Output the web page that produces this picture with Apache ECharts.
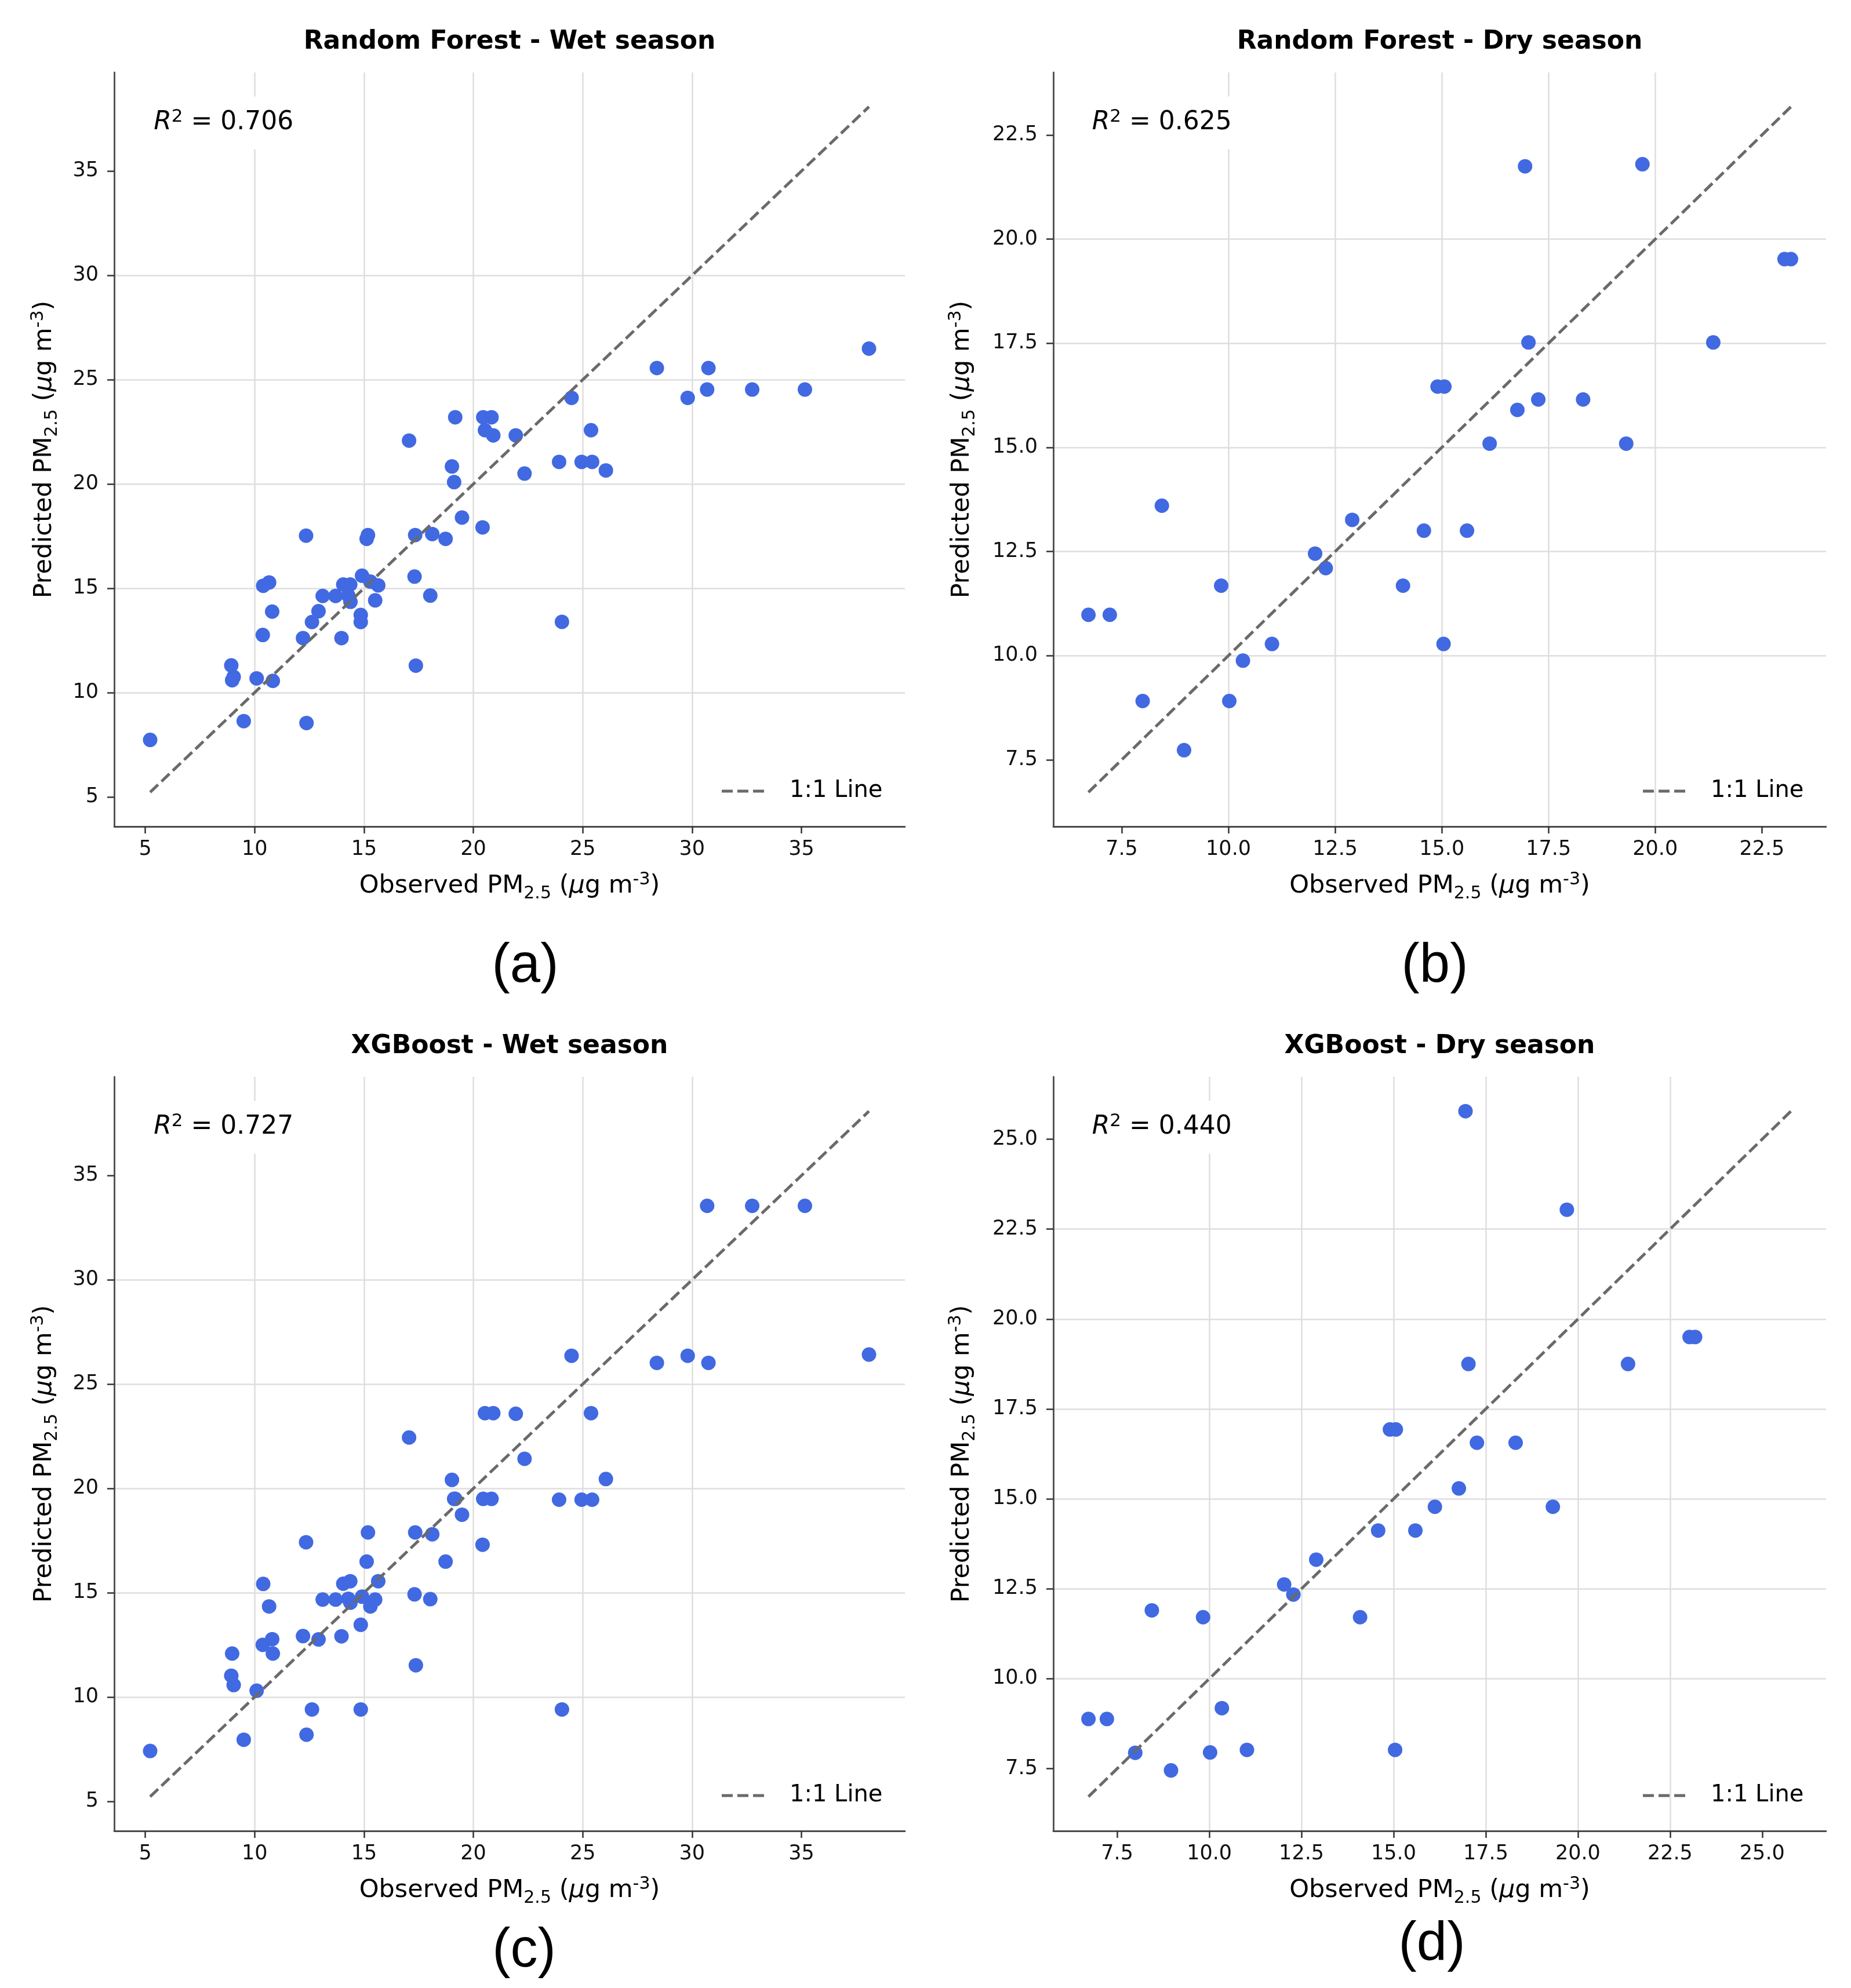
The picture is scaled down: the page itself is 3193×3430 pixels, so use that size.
<!DOCTYPE html>
<html>
<head>
<meta charset="utf-8">
<title>Observed vs predicted PM2.5</title>
<script src="https://cdn.jsdelivr.net/npm/echarts@6/dist/echarts.min.js"></script>
<style>
  html, body { margin: 0; padding: 0; background: #fff; }
  #chart { width: 3193px; height: 3430px; }
</style>
</head>
<body>
<div id="chart"></div>
<script>
// wet season, observed values are the same for both models
var wetObs = [5.22, 8.93, 8.97, 9.04, 9.5, 10.09, 10.37, 10.39, 10.66, 10.8, 10.83, 12.21, 12.35, 12.37, 12.62, 12.92,
  13.11, 13.7, 13.97, 14.05, 14.28, 14.37, 14.38, 14.85, 14.85, 14.91, 15.12, 15.18, 15.29, 15.51, 15.65,
  17.06, 17.31, 17.34, 17.37, 18.03, 18.12, 18.73, 19.02, 19.12, 19.17, 19.48, 20.42, 20.45, 20.53, 20.83, 20.91,
  21.94, 22.34, 23.92, 24.05, 24.49, 24.95, 25.38, 25.43, 26.06, 28.39, 29.8, 30.69, 30.75, 32.75, 35.16, 38.09];
var rfWetPred = [7.73, 11.3, 10.59, 10.75, 8.63, 10.68, 12.76, 15.12, 15.28, 13.88, 10.56, 12.61, 17.52, 8.54, 13.38, 13.9,
  14.63, 14.63, 12.61, 15.18, 14.65, 15.18, 14.35, 13.72, 13.38, 15.6, 17.37, 17.55, 15.32, 14.42, 15.14,
  22.08, 15.56, 17.55, 11.29, 14.65, 17.6, 17.37, 20.84, 20.09, 23.2, 18.39, 17.92, 23.2, 22.58, 23.2, 22.33,
  22.33, 20.5, 21.06, 13.39, 24.13, 21.06, 22.58, 21.06, 20.65, 25.56, 24.13, 24.53, 25.56, 24.53, 24.53, 26.49];
var xgbWetPred = [7.41, 11.02, 12.08, 10.57, 7.95, 10.3, 12.5, 15.42, 14.34, 12.77, 12.08, 12.92, 17.42, 8.19, 9.4, 12.76,
  14.67, 14.67, 12.91, 15.43, 14.71, 15.55, 14.52, 13.46, 9.4, 14.81, 16.49, 17.89, 14.34, 14.67, 15.55,
  22.44, 14.92, 17.89, 11.52, 14.69, 17.8, 16.49, 20.41, 19.5, 19.5, 18.74, 17.3, 19.5, 23.61, 19.5, 23.61,
  23.58, 21.42, 19.46, 9.4, 26.36, 19.46, 23.61, 19.46, 20.45, 26.02, 26.36, 33.55, 26.02, 33.55, 33.55, 26.42];

// dry season
var dryObs = [6.72, 7.22, 7.99, 8.44, 8.96, 9.83, 10.02, 10.34, 11.02, 12.03, 12.28, 12.9, 14.09, 14.58, 14.9,
  15.06, 15.04, 15.59, 16.12, 16.77, 16.95, 17.03, 17.26, 18.31, 19.32, 19.7, 21.36, 23.03, 23.18];
var rfDryPred = [10.98, 10.98, 8.91, 13.6, 7.73, 11.68, 8.91, 9.88, 10.28, 12.45, 12.1, 13.26, 11.68, 13.0, 16.46,
  16.46, 10.28, 13.0, 15.09, 15.9, 21.75, 17.52, 16.15, 16.15, 15.09, 21.8, 17.52, 19.52, 19.52];
var xgbDryPred = [8.88, 8.88, 7.94, 11.9, 7.45, 11.71, 7.95, 9.18, 8.02, 12.62, 12.34, 13.31, 11.71, 14.12, 16.93,
  16.93, 8.02, 14.12, 14.78, 15.29, 25.78, 18.75, 16.56, 16.56, 14.78, 23.04, 18.75, 19.5, 19.5];

var wetTicks = [5, 10, 15, 20, 25, 30, 35];
var rfDryTicks = [7.5, 10, 12.5, 15, 17.5, 20, 22.5];
var xgbDryTicks = [7.5, 10, 12.5, 15, 17.5, 20, 22.5, 25];

var titles = ['Random Forest - Wet season', 'Random Forest - Dry season', 'XGBoost - Wet season', 'XGBoost - Dry season'];
var r2Values = ['0.706', '0.625', '0.727', '0.440'];
var letters = ['(a)', '(b)', '(c)', '(d)'];

var F = 'DejaVu Sans';
var BLUE = '#4169e1';
var LINE = '#6a6a6a';

// panel layout (pixels)
var panels = [
  { obs: wetObs, pred: rfWetPred, ticks: wetTicks, dec: 0, left: 197, top: 125, w: 1364, h: 1301, gapY: 93, lx: 906, ly: 1668 },
  { obs: dryObs, pred: rfDryPred, ticks: rfDryTicks, dec: 1, left: 1817, top: 125, w: 1333, h: 1301, gapY: 130, lx: 2475, ly: 1668 },
  { obs: wetObs, pred: xgbWetPred, ticks: wetTicks, dec: 0, left: 197, top: 1858, w: 1364, h: 1301, gapY: 93, lx: 904, ly: 3367 },
  { obs: dryObs, pred: xgbDryPred, ticks: xgbDryTicks, dec: 1, left: 1817, top: 1858, w: 1333, h: 1301, gapY: 130, lx: 2470, ly: 3356 }
];

var richAxis = {
  sub: { fontFamily: F, fontSize: 30, color: '#000', padding: [26, 0, 0, 0] },
  sup: { fontFamily: F, fontSize: 30, color: '#000', padding: [0, 0, 22, 0] },
  mu: { fontFamily: F, fontSize: 43, color: '#000', fontStyle: 'italic' }
};
var nameStyle = { fontFamily: F, fontSize: 43, color: '#000', lineHeight: 54, rich: richAxis };

var grids = [], xAxes = [], yAxes = [], series = [], graphics = [];

panels.forEach(function (p, k) {
  var all = p.obs.concat(p.pred);
  var lo = Math.min.apply(null, all);
  var hi = Math.max.apply(null, all);
  var pad = (hi - lo) * 0.05;
  var fmt = function (v) { return Number(v).toFixed(p.dec); };

  grids.push({ left: p.left, top: p.top, width: p.w, height: p.h, containLabel: false, outerBoundsMode: 'none' });

  var common = {
    type: 'value', gridIndex: k, min: lo - pad, max: hi + pad,
    nameLocation: 'middle', nameTextStyle: nameStyle,
    axisLine: { show: true, onZero: false, lineStyle: { color: '#4a4a4a', width: 2.8 } },
    axisTick: { show: true, customValues: p.ticks, length: 12, lineStyle: { color: '#333', width: 2.5 } },
    axisLabel: { customValues: p.ticks, formatter: fmt, fontFamily: F, fontSize: 35, color: '#111' },
    splitLine: { show: true, showMinLine: false, showMaxLine: false, lineStyle: { color: '#dedede', width: 2.5 } }
  };
  xAxes.push(echarts.util.merge({
    name: 'Observed PM{sub|2.5} ({mu|μ}g m{sup|-3})', nameGap: 76,
    axisLabel: { margin: 22 }
  }, common));
  yAxes.push(echarts.util.merge({
    name: 'Predicted PM{sub|2.5} ({mu|μ}g m{sup|-3})', nameGap: p.gapY, nameRotate: 90,
    axisLabel: { margin: 27 }
  }, common));

  series.push({
    type: 'scatter', xAxisIndex: k, yAxisIndex: k, z: 2,
    symbol: 'circle', symbolSize: 25,
    itemStyle: { color: BLUE, opacity: 1 },
    data: p.obs.map(function (x, i) { return [x, p.pred[i]]; })
  });
  series.push({
    type: 'line', name: '1:1 Line', xAxisIndex: k, yAxisIndex: k, z: 3,
    symbol: 'none', silent: true,
    lineStyle: { color: LINE, width: 5, type: [19, 8] },
    data: [[lo, lo], [hi, hi]]
  });

  // title
  graphics.push({
    type: 'text', x: p.left + p.w / 2, y: p.top - 52, z: 10,
    style: { text: titles[k], fontFamily: F, fontWeight: 'bold', fontSize: 44, fill: '#000',
      textAlign: 'center', textVerticalAlign: 'middle' }
  });
  // R^2 box (padding is part of the box, so shift left by it)
  graphics.push({
    type: 'text', x: p.left + p.w * 0.05 - 17, y: p.top + 87, z: 10,
    style: {
      text: '{it|R}{sup|2} = ' + r2Values[k], fontFamily: F, fontSize: 44, fill: '#000',
      textVerticalAlign: 'middle', backgroundColor: '#fff', padding: [20, 17, 20, 17],
      rich: {
        it: { fontFamily: F, fontSize: 44, fontStyle: 'italic', fill: '#000' },
        sup: { fontFamily: F, fontSize: 31, fill: '#000', padding: [0, 0, 20, 0] }
      }
    }
  });
  // legend
  var right = p.left + p.w;
  var legY = p.top + p.h - 61;
  graphics.push({
    type: 'line', z: 10,
    shape: { x1: right - 316, y1: legY, x2: right - 238, y2: legY },
    style: { stroke: LINE, lineWidth: 5, lineDash: [19, 8] }
  });
  graphics.push({
    type: 'text', x: right - 199, y: legY, z: 10,
    style: { text: '1:1 Line', fontFamily: F, fontSize: 40, fill: '#000', textVerticalAlign: 'middle' }
  });
  // panel letter
  graphics.push({
    type: 'text', x: p.lx, y: p.ly, z: 10,
    style: { text: letters[k], fontFamily: 'Liberation Sans', fontSize: 94, fill: '#000',
      textAlign: 'center', textVerticalAlign: 'middle' }
  });
});

var chart = echarts.init(document.getElementById('chart'));
chart.setOption({
  backgroundColor: '#ffffff',
  animation: false,
  grid: grids,
  xAxis: xAxes,
  yAxis: yAxes,
  series: series,
  graphic: graphics
});
</script>
</body>
</html>
